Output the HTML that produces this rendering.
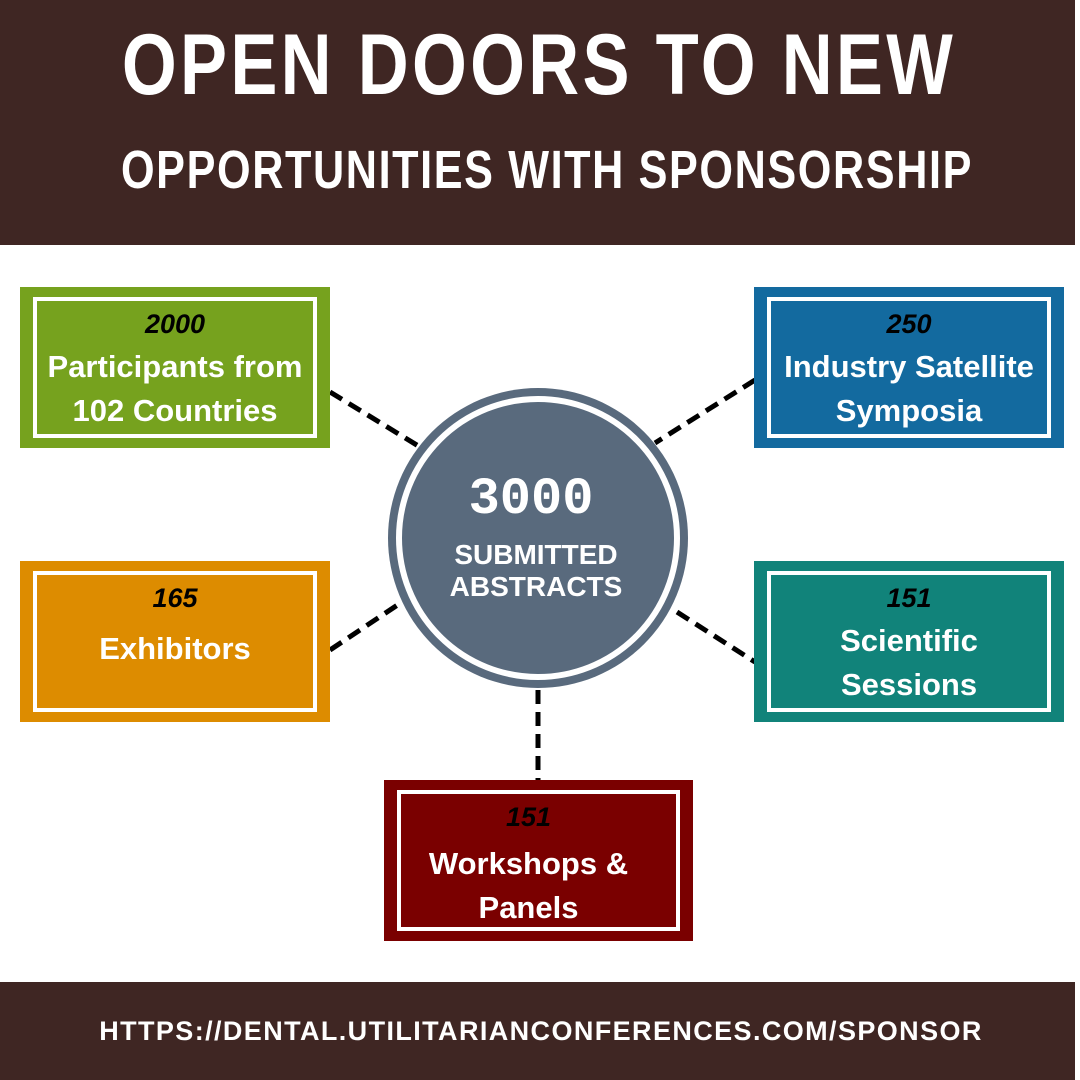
<!DOCTYPE html>
<html><head><meta charset="utf-8"><style>
body{margin:0;width:1080px;height:1080px;background:#fff;position:relative;overflow:hidden;font-family:"Liberation Sans","DejaVu Sans",sans-serif}
.a{position:absolute}
.hdr{left:0;top:0;width:1075px;height:245px;background:#3f2623}
.ftr{left:0;top:982px;width:1075px;height:98px;background:#3f2623}
.t1{left:0;width:1078px;top:22px;text-align:center;color:#fff;font-weight:bold;font-size:86px;letter-spacing:4px;line-height:86px;transform:scaleX(0.82);transform-origin:539px 0}
.t2{left:0;width:1094px;top:142px;text-align:center;color:#fff;font-weight:bold;font-size:54px;letter-spacing:2px;line-height:56px;transform:scaleX(0.8);transform-origin:547px 0}
.url{left:0;width:1082px;top:1014px;text-align:center;color:#fff;font-weight:bold;font-size:27px;letter-spacing:1.4px;line-height:34px}
.box{width:310px;height:161px}
.in{position:absolute;left:13px;top:10px;right:13px;bottom:10px;border:4px solid #fff;color:#fff;text-align:center}
.n{font-weight:bold;font-style:italic;color:#000;font-size:27px;line-height:30px;margin-top:8px}
.l{font-weight:bold;font-size:31px;line-height:44px;margin-top:6px;white-space:nowrap;margin-left:-10px;margin-right:-10px}
</style></head><body>
<div class="a hdr"></div>
<div class="a t1">OPEN DOORS TO NEW</div>
<div class="a t2">OPPORTUNITIES WITH SPONSORSHIP</div>
<svg class="a" style="left:0;top:0" width="1080" height="1080">
<g stroke="#000" stroke-width="5" stroke-dasharray="14,8" fill="none">
<line x1="330" y1="392" x2="420" y2="447"/>
<line x1="755" y1="380" x2="655" y2="443"/>
<line x1="330" y1="650" x2="405" y2="600"/>
<line x1="677" y1="612" x2="755" y2="662"/>
<line x1="538" y1="690" x2="538" y2="780"/>
</g>
<circle cx="538" cy="538" r="150" fill="#596a7d"/>
<circle cx="538" cy="538" r="139" fill="none" stroke="#fff" stroke-width="6"/>
<text x="531" y="513" fill="#fff" font-family="Liberation Mono,monospace" font-weight="bold" font-size="52" text-anchor="middle">3000</text>
<text x="536" y="564" fill="#fff" font-family="Liberation Sans,sans-serif" font-weight="bold" font-size="28" text-anchor="middle">SUBMITTED</text>
<text x="536" y="596" fill="#fff" font-family="Liberation Sans,sans-serif" font-weight="bold" font-size="28" text-anchor="middle">ABSTRACTS</text>
</svg>
<div class="a box" style="left:20px;top:287px;background:#76a21e"><div class="in"><div class="n">2000</div><div class="l">Participants from<br>102 Countries</div></div></div>
<div class="a box" style="left:754px;top:287px;background:#136a9f"><div class="in"><div class="n">250</div><div class="l">Industry Satellite<br>Symposia</div></div></div>
<div class="a box" style="left:20px;top:561px;background:#dd8c00"><div class="in"><div class="n">165</div><div class="l" style="margin-top:14px">Exhibitors</div></div></div>
<div class="a box" style="left:754px;top:561px;background:#11837a"><div class="in"><div class="n">151</div><div class="l">Scientific<br>Sessions</div></div></div>
<div class="a box" style="left:384px;top:780px;width:309px;background:#7a0000"><div class="in"><div class="n" style="margin-right:20px">151</div><div class="l" style="margin-top:10px;margin-left:-30px">Workshops &amp;<br>Panels</div></div></div>
<div class="a ftr"></div>
<div class="a url">HTTPS://DENTAL.UTILITARIANCONFERENCES.COM/SPONSOR</div>
</body></html>
